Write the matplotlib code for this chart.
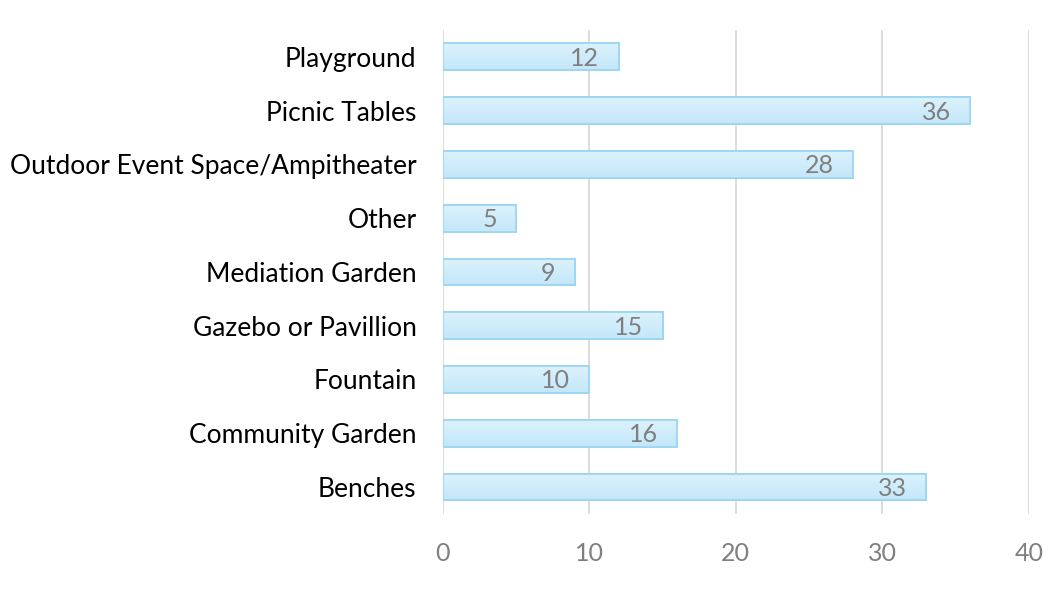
import numpy as np
import matplotlib.pyplot as plt

categories = [
    "Benches",
    "Community Garden",
    "Fountain",
    "Gazebo or Pavillion",
    "Mediation Garden",
    "Other",
    "Outdoor Event Space/Ampitheater",
    "Picnic Tables",
    "Playground",
]
counts = [33, 16, 10, 15, 9, 5, 28, 36, 12]
x_ticks = [0, 10, 20, 30, 40]

plt.rcParams["font.family"] = ["Lato", "DejaVu Sans"]

fig = plt.figure(figsize=(10.52, 6.01), dpi=100)
ax = fig.add_axes([0.421, 0.145, 0.557, 0.805])

y = np.arange(len(categories))
bars = ax.barh(y, counts, height=0.5, color="#d2edfb",
               edgecolor="#9dd6f1", linewidth=1.3, zorder=3)

# soft gradient inside each bar, lighter at the top
grad = np.linspace(0, 1, 64).reshape(-1, 1)
cmap = plt.matplotlib.colors.LinearSegmentedColormap.from_list(
    "barfill", ["#dcf2fc", "#c3e7f9"])
for b in bars:
    x0, y0 = b.get_x(), b.get_y()
    w, h = b.get_width(), b.get_height()
    im = ax.imshow(grad, cmap=cmap, aspect="auto", origin="upper",
                   extent=[x0, x0 + w, y0, y0 + h], zorder=3.5)
    im.set_clip_path(b)
    edge = plt.Rectangle((x0, y0), w, h, fill=False,
                         edgecolor="#9dd6f1", linewidth=1.3, zorder=4)
    ax.add_patch(edge)

for yi, v in zip(y, counts):
    ax.annotate(str(v), xy=(v, yi), xytext=(-14, -1), textcoords="offset points",
                ha="right", va="center", fontsize=18, color="#7f7f7f", zorder=5)

ax.set_xlim(0, 40)
ax.set_ylim(-0.5, len(categories) - 0.5)
ax.set_xticks(x_ticks)
ax.set_yticks(y)
ax.set_yticklabels(categories, fontsize=19, color="#000000")
ax.tick_params(axis="x", labelsize=18, labelcolor="#7f7f7f", length=0, pad=20)
ax.tick_params(axis="y", length=0, pad=19)
ax.xaxis.grid(True, color="#d9d9d9", linewidth=1.3, zorder=0)
ax.set_axisbelow(True)
for s in ax.spines.values():
    s.set_visible(False)

fig.savefig("out.png", dpi=100)
